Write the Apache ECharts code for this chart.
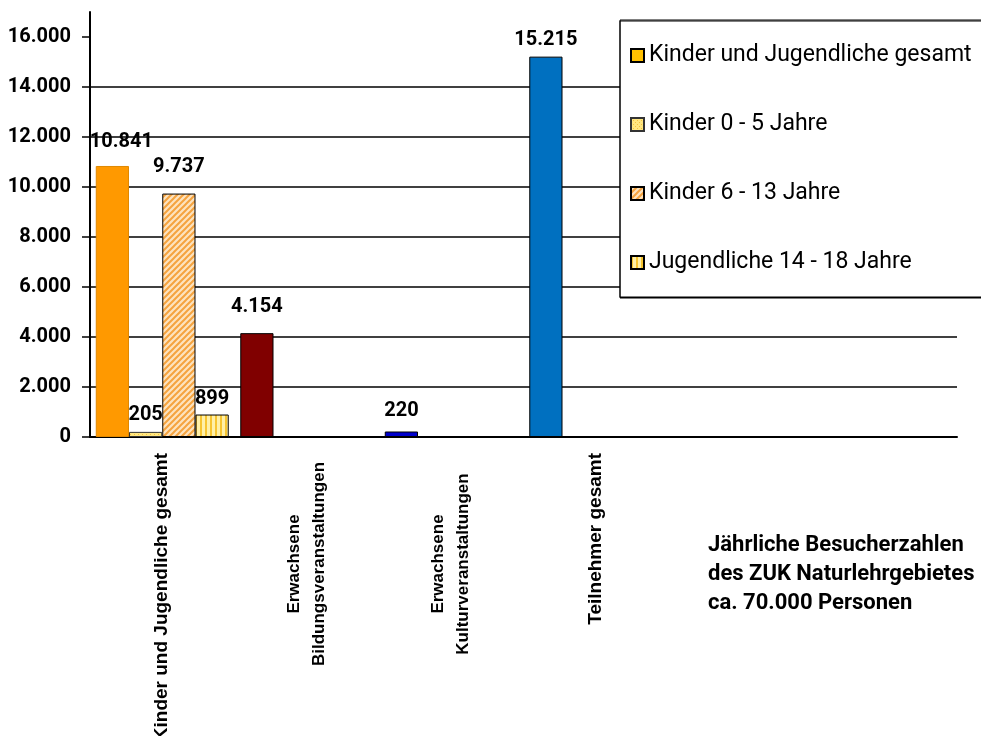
<!DOCTYPE html>
<html>
<head>
<meta charset="utf-8">
<script src="https://cdn.jsdelivr.net/npm/echarts@6/dist/echarts.min.js"></script>
<style>
  html, body { margin: 0; padding: 0; background: #fff; }
  #chart { width: 981px; height: 736px; }
</style>
</head>
<body>
<div id="chart"></div>
<script>
// categories on the x axis (last two slots are empty in the original)
const categories = [
  'Kinder und Jugendliche gesamt',
  'Erwachsene\nBildungsveranstaltungen',
  'Erwachsene\nKulturveranstaltungen',
  'Teilnehmer gesamt',
  '',
  ''
];
const seriesNames = [
  'Kinder und Jugendliche gesamt',
  'Kinder 0 - 5 Jahre',
  'Kinder 6 - 13 Jahre',
  'Jugendliche 14 - 18 Jahre'
];
// values per series (one per category)
const totals = [10841, 4154, 220, 15215, null, null];
const kids0to5 = [205, null, null, null, null, null];
const kids6to13 = [9737, null, null, null, null, null];
const youth14to18 = [899, null, null, null, null, null];
const totalColors = ['#FF9900', '#800000', '#0000CC', '#0070C0', '#FF9900', '#FF9900'];
const yTicks = [0, 2000, 4000, 6000, 8000, 10000, 12000, 14000, 16000];

// little canvas patterns for the hatched bars
function makePattern(w, h, draw) {
  const c = document.createElement('canvas');
  c.width = w; c.height = h;
  draw(c.getContext('2d'), w, h);
  return { image: c, repeat: 'repeat' };
}
const dotPattern = makePattern(4, 4, (ctx) => {
  ctx.fillStyle = '#FFE680'; ctx.fillRect(0, 0, 4, 4);
  ctx.fillStyle = '#F2C040';
  ctx.fillRect(0, 0, 1, 1); ctx.fillRect(2, 2, 1, 1);
});
const diagPattern = makePattern(6, 6, (ctx) => {
  ctx.fillStyle = '#FDE3BF'; ctx.fillRect(0, 0, 6, 6);
  ctx.strokeStyle = '#F5A33F'; ctx.lineWidth = 2;
  ctx.beginPath();
  ctx.moveTo(-1, 7); ctx.lineTo(7, -1);
  ctx.moveTo(-4, 4); ctx.lineTo(4, -4);
  ctx.moveTo(2, 10); ctx.lineTo(10, 2);
  ctx.stroke();
});
const stripePattern = makePattern(5, 4, (ctx) => {
  ctx.fillStyle = '#FFF0A8'; ctx.fillRect(0, 0, 5, 4);
  ctx.fillStyle = '#F7C531'; ctx.fillRect(0, 0, 2, 4);
});

const fmt = (v) => String(v).replace(/\B(?=(\d{3})+(?!\d))/g, '.');

function valueLabel(distance, offsetX) {
  return {
    show: true,
    position: 'top',
    distance: distance,
    offset: [offsetX || 0, 0],
    fontFamily: 'Roboto',
    fontWeight: 'bold',
    fontSize: 20,
    color: '#000',
    formatter: (p) => fmt(p.value)
  };
}
// the labels in the original sit at slightly different heights
const totalLabelGap = [14, 16, 11, 7, 10, 10];

const chart = echarts.init(document.getElementById('chart'), null, { renderer: 'canvas' });

const option = {
  backgroundColor: '#fff',
  animation: false,
  grid: { left: 90, right: 24, top: 12, bottom: 299, containLabel: false, outerBoundsMode: 'none' },
  title: {
    text: 'Jährliche Besucherzahlen\ndes ZUK Naturlehrgebietes\nca. 70.000 Personen',
    left: 708,
    top: 531,
    padding: 0,
    textStyle: {
      fontFamily: 'Roboto',
      fontWeight: 'bold',
      fontSize: 22,
      lineHeight: 29,
      color: '#000'
    }
  },
  legend: {
    orient: 'vertical',
    left: 620,
    top: 20,
    padding: [24, 40, 23, 10],
    itemGap: 46,
    itemWidth: 13,
    itemHeight: 13,
    icon: 'rect',
    backgroundColor: '#fff',
    borderColor: '#000',
    borderWidth: 1,
    shadowColor: '#000',
    shadowOffsetY: 1,
    textStyle: { fontFamily: 'Roboto', fontSize: 23, color: '#000' },
    data: seriesNames
  },
  xAxis: {
    type: 'category',
    data: categories,
    axisLine: { lineStyle: { color: '#000', width: 2 } },
    axisTick: { show: false },
    axisLabel: {
      interval: 0,
      rotate: 90,
      margin: 16,
      fontFamily: 'Liberation Sans',
      fontWeight: 'bold',
      fontSize: 19,
      color: '#000',
      formatter: (v) => v.indexOf('\n') >= 0
        ? v.split('\n').map((s) => '{c|' + s + '}').join('\n')
        : v,
      rich: {
        c: {
          width: 222,
          align: 'center',
          fontFamily: 'Liberation Sans',
          fontWeight: 'bold',
          fontSize: 17,
          lineHeight: 25,
          color: '#000'
        }
      }
    }
  },
  yAxis: {
    type: 'value',
    min: 0,
    max: 17000,
    interval: 2000,
    axisLine: { show: true, lineStyle: { color: '#000', width: 2 } },
    axisTick: { show: true, length: 8, customValues: yTicks, lineStyle: { color: '#000', width: 1.5 } },
    splitLine: { showMaxLine: false, lineStyle: { color: '#000', width: 1.5 } },
    axisLabel: {
      margin: 19,
      customValues: yTicks,
      fontFamily: 'Roboto',
      fontWeight: 'bold',
      fontSize: 20,
      color: '#000',
      formatter: (v) => fmt(v)
    }
  },
  series: [
    {
      name: seriesNames[0],
      type: 'bar',
      barGap: '0%',
      barCategoryGap: '8%',
      itemStyle: { color: '#FFC000', borderColor: '#000', borderWidth: 1 },
      label: valueLabel(10),
      data: totals.map((v, i) => ({
        value: v,
        label: valueLabel(totalLabelGap[i], i === 0 ? 9 : 0),
        itemStyle: { color: totalColors[i], borderColor: i === 0 ? '#E08800' : '#000' }
      }))
    },
    {
      name: seriesNames[1],
      type: 'bar',
      itemStyle: { color: dotPattern, borderColor: '#333', borderWidth: 1 },
      label: valueLabel(7),
      data: kids0to5
    },
    {
      name: seriesNames[2],
      type: 'bar',
      itemStyle: { color: diagPattern, borderColor: '#000', borderWidth: 1 },
      label: valueLabel(17),
      data: kids6to13
    },
    {
      name: seriesNames[3],
      type: 'bar',
      itemStyle: { color: stripePattern, borderColor: '#000', borderWidth: 1 },
      label: valueLabel(6),
      data: youth14to18
    }
  ]
};

chart.setOption(option);
</script>
</body>
</html>
